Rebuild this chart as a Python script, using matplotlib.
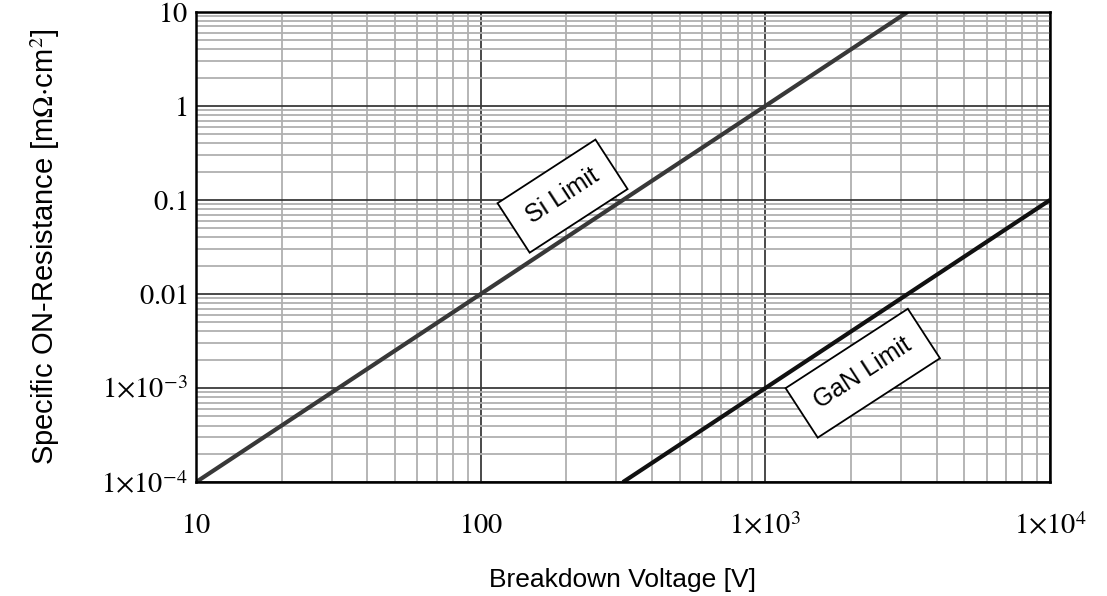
import matplotlib.pyplot as plt
import numpy as np

# points
si_voltage = [10, 100, 1000, 3162]
si_resistance = [1e-4, 1e-2, 1.0, 10.0]
gan_voltage = [316, 1000, 10000]
gan_resistance = [1e-4, 1e-3, 0.1]

x_ticks = [10, 100, 1000, 10000]
x_labels = [r'$10$', r'$100$', r'$1{\times}10^{3}$', r'$1{\times}10^{4}$']
y_ticks = [1e-4, 1e-3, 1e-2, 0.1, 1, 10]
y_labels = [r'$1{\times}10^{-4}$', r'$1{\times}10^{-3}$', r'$0.01$', r'$0.1$', r'$1$', r'$10$']

plt.rcParams['mathtext.fontset'] = 'stix'
plt.rcParams['font.family'] = ['Liberation Sans', 'DejaVu Sans']

fig = plt.figure(figsize=(11.07, 5.96), dpi=100)
ax = fig.add_axes([0.177, 0.191, 0.7715, 0.789])

ax.set_xscale('log')
ax.set_yscale('log')
ax.set_xlim(10, 10000)
ax.set_ylim(1e-4, 10)

ax.grid(True, which='minor', color='#b0b0b0', lw=1.3)
ax.grid(True, which='major', color='#3a3a3a', lw=1.3)
ax.set_axisbelow(True)

ax.plot(si_voltage, si_resistance, color='#383838', lw=3.0, solid_capstyle='butt')
ax.plot(gan_voltage, gan_resistance, color='#111111', lw=3.0, solid_capstyle='butt')

ax.set_xticks(x_ticks)
ax.set_xticklabels(x_labels, fontsize=20.5)
ax.set_yticks(y_ticks)
ax.set_yticklabels(y_labels, fontsize=20.5)
ax.tick_params(which='both', length=0)
ax.tick_params(axis='x', pad=22)
ax.tick_params(axis='y', pad=6)

for s in ax.spines.values():
    s.set_linewidth(1.8)
    s.set_color('black')

box = dict(boxstyle='square,pad=0.7', fc='white', ec='black', lw=1.3)
ax.text(194, 0.11, 'Si Limit', rotation=33, ha='center', va='center',
        fontsize=18, bbox=box)
ax.text(2200, 1.44e-3, 'GaN Limit', rotation=33, ha='center', va='center',
        fontsize=18, bbox=box)

ax.set_xlabel('Breakdown Voltage [V]', fontsize=19, labelpad=20)
ax.set_ylabel(r'Specific ON-Resistance [m$\Omega$$\cdot$cm$^2$]', fontsize=21, labelpad=28)

fig.savefig('out.png', dpi=100)
